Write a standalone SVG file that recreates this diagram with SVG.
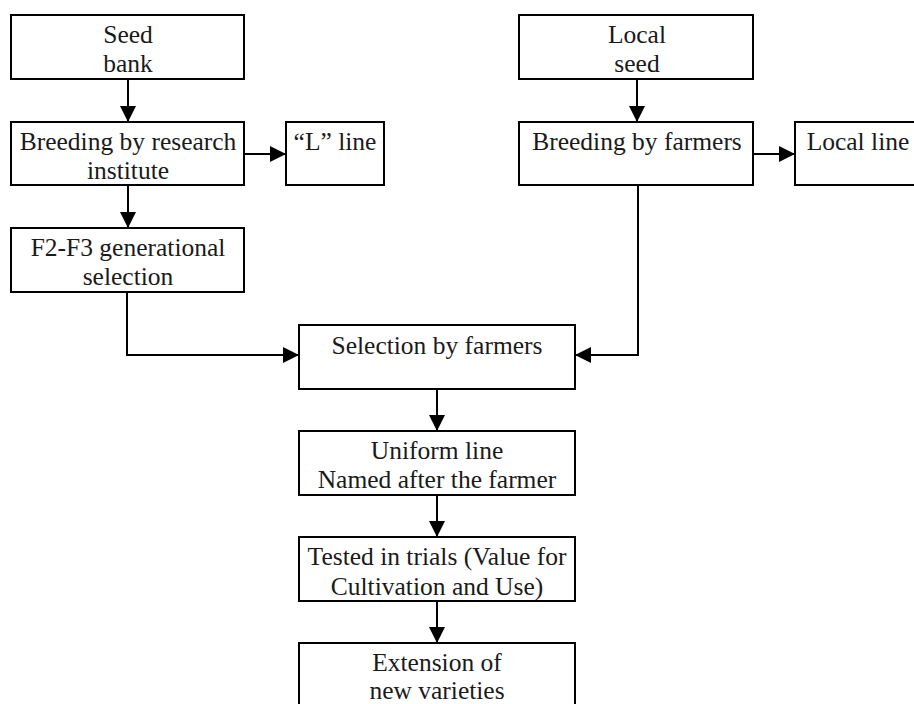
<svg xmlns="http://www.w3.org/2000/svg" width="914" height="704" viewBox="0 0 914 704">
  <style>
    .box { fill: #ffffff; stroke: #000000; stroke-width: 2; }
    .lbl { font-family: "Liberation Serif", "DejaVu Serif", "Times New Roman", serif; font-size: 25.5px; fill: #1a1a1a; text-anchor: middle; }
    .edge { fill: none; stroke: #000000; stroke-width: 2; marker-end: url(#arrow); }
  </style>
  <defs>
    <marker id="arrow" markerUnits="userSpaceOnUse" markerWidth="16" markerHeight="16" refX="16" refY="8" orient="auto">
      <path d="M0,0 L16,8 L0,16 Z" fill="#000000"/>
    </marker>
  </defs>
  <rect width="914" height="704" fill="#ffffff"/>

  <g id="connectors">
    <path class="edge" d="M128,79 V122"/>
    <path class="edge" d="M128,185 V228"/>
    <path class="edge" d="M244,154 H286"/>
    <path class="edge" d="M637,79 V122"/>
    <path class="edge" d="M753,154 H795"/>
    <path class="edge" d="M127,292 V355 H299"/>
    <path class="edge" d="M638,185 V355 H575"/>
    <path class="edge" d="M437,389 V431"/>
    <path class="edge" d="M437,495 V537"/>
    <path class="edge" d="M437,601 V643"/>
  </g>

  <g id="seed-bank">
    <rect class="box" x="11" y="15" width="233" height="64"/>
    <text class="lbl" x="128" y="43">Seed</text>
    <text class="lbl" x="128" y="72">bank</text>
  </g>

  <g id="breeding-institute">
    <rect class="box" x="11" y="122" width="233" height="63"/>
    <text class="lbl" x="128" y="150">Breeding by research</text>
    <text class="lbl" x="128" y="179">institute</text>
  </g>

  <g id="l-line">
    <rect class="box" x="286" y="122" width="98" height="63"/>
    <text class="lbl" x="335" y="150">“L” line</text>
  </g>

  <g id="f2-f3-selection">
    <rect class="box" x="11" y="228" width="233" height="64"/>
    <text class="lbl" x="128" y="256">F2-F3 generational</text>
    <text class="lbl" x="128" y="285">selection</text>
  </g>

  <g id="local-seed">
    <rect class="box" x="519" y="15" width="234" height="64"/>
    <text class="lbl" x="637" y="43">Local</text>
    <text class="lbl" x="637" y="72">seed</text>
  </g>

  <g id="breeding-farmers">
    <rect class="box" x="519" y="122" width="234" height="63"/>
    <text class="lbl" x="637" y="150">Breeding by farmers</text>
  </g>

  <g id="local-line">
    <rect class="box" x="795" y="122" width="127" height="63"/>
    <text class="lbl" x="858" y="150">Local line</text>
  </g>

  <g id="selection-farmers">
    <rect class="box" x="299" y="325" width="276" height="64"/>
    <text class="lbl" x="437" y="354">Selection by farmers</text>
  </g>

  <g id="uniform-line">
    <rect class="box" x="299" y="431" width="276" height="64"/>
    <text class="lbl" x="437" y="459">Uniform line</text>
    <text class="lbl" x="437" y="488">Named after the farmer</text>
  </g>

  <g id="vcu-trials">
    <rect class="box" x="299" y="537" width="276" height="64"/>
    <text class="lbl" x="437" y="565">Tested in trials (Value for</text>
    <text class="lbl" x="437" y="595">Cultivation and Use)</text>
  </g>

  <g id="extension">
    <rect class="box" x="299" y="643" width="276" height="64"/>
    <text class="lbl" x="437" y="671">Extension of</text>
    <text class="lbl" x="437" y="699">new varieties</text>
  </g>
</svg>
